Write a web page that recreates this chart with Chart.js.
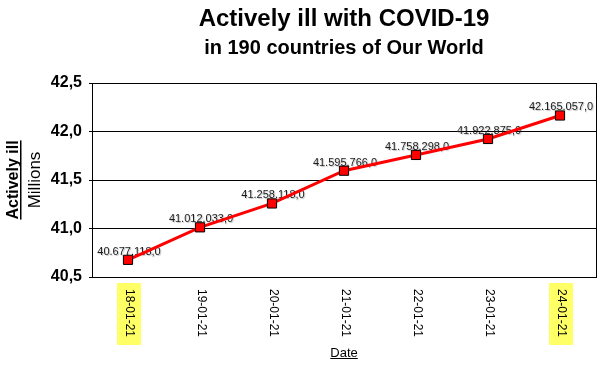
<!DOCTYPE html>
<html>
<head>
<meta charset="utf-8">
<script src="https://cdn.jsdelivr.net/npm/chart.js@4/dist/chart.umd.min.js"></script>
<style>
  html, body { margin: 0; padding: 0; background: #fff; }
  #wrap { width: 609px; height: 369px; }
</style>
</head>
<body>
<div id="wrap"><canvas id="myChart" width="609" height="369"></canvas></div>
<script>
// dates on the x axis
const dates = ["18-01-21", "19-01-21", "20-01-21", "21-01-21", "22-01-21", "23-01-21", "24-01-21"];
// actively ill people (absolute numbers)
const activeIll = [40677118, 41012033, 41258118, 41595766, 41758298, 41922875, 42165057];
// y axis ticks (millions)
const yTicks = [40.5, 41.0, 41.5, 42.0, 42.5];
// which dates get the yellow mark
const highlighted = ["18-01-21", "24-01-21"];

const FONT = "'Liberation Sans', Arial, sans-serif";

function formatValue(n) {
    return n.toString().replace(/\B(?=(\d{3})+(?!\d))/g, ".") + ",0";
}

const extrasPlugin = {
    id: "extras",
    beforeDatasetsDraw(chart) {
        const ctx = chart.ctx;
        const meta = chart.getDatasetMeta(0);
        ctx.save();
        ctx.font = "11px " + FONT;
        ctx.textAlign = "center";
        ctx.textBaseline = "alphabetic";
        ctx.shadowColor = "rgba(0,0,0,0.25)";
        ctx.shadowOffsetX = 1;
        ctx.shadowOffsetY = 1;
        ctx.shadowBlur = 1;
        ctx.fillStyle = "#1a1a1a";
        meta.data.forEach((pt, i) => {
            ctx.fillText(formatValue(activeIll[i]), pt.x + 1, pt.y - 5);
        });
        ctx.restore();
    },
    afterDraw(chart) {
        const ctx = chart.ctx;
        const area = chart.chartArea;
        const xScale = chart.scales.x;
        const cx = (area.left + area.right) / 2;
        ctx.save();

        // frame round the plot
        ctx.strokeStyle = "#000";
        ctx.lineWidth = 1;
        ctx.strokeRect(area.left + 0.5, area.top + 0.5, area.right - area.left, area.bottom - area.top);

        // titles
        ctx.fillStyle = "#000";
        ctx.textAlign = "center";
        ctx.textBaseline = "middle";
        ctx.font = "bold 24px " + FONT;
        ctx.fillText("Actively ill with COVID-19", cx, 19);
        ctx.font = "bold 20px " + FONT;
        ctx.fillText("in 190 countries of Our World", cx, 48);

        // x tick labels, rotated clockwise
        dates.forEach((d, i) => {
            const x = xScale.getPixelForValue(i);
            if (highlighted.includes(d)) {
                ctx.fillStyle = "#ffff66";
                ctx.fillRect(x - 11, area.bottom + 6, 24, 62);
            }
            ctx.save();
            ctx.translate(x + 1, area.bottom + 12);
            ctx.rotate(Math.PI / 2);
            ctx.fillStyle = "#000";
            ctx.font = "12px " + FONT;
            ctx.textAlign = "left";
            ctx.textBaseline = "middle";
            ctx.fillText(d, 0, 0);
            ctx.restore();
        });

        // x axis title, underlined
        ctx.font = "13px " + FONT;
        ctx.textAlign = "center";
        ctx.textBaseline = "alphabetic";
        ctx.fillStyle = "#000";
        const dw = ctx.measureText("Date").width;
        ctx.fillText("Date", cx, 357);
        ctx.fillRect(cx - dw / 2, 358, dw, 1);

        // y axis title
        const cy = (area.top + area.bottom) / 2;
        ctx.save();
        ctx.translate(18, cy);
        ctx.rotate(-Math.PI / 2);
        ctx.font = "bold 16px " + FONT;
        ctx.textAlign = "center";
        ctx.textBaseline = "alphabetic";
        const tw = ctx.measureText("Actively ill").width;
        ctx.fillText("Actively ill", 0, 0);
        ctx.fillRect(-tw / 2, 2, tw, 1.5);
        ctx.font = "17px " + FONT;
        ctx.fillText("Millions", 0, 22);
        ctx.restore();

        ctx.restore();
    }
};

new Chart("myChart", {
    type: "line",
    data: {
        labels: dates,
        datasets: [{
            data: activeIll.map((v) => v / 1e6),
            borderColor: "#ff0000",
            borderWidth: 3,
            pointStyle: "rect",
            pointRadius: 6.5,
            pointBackgroundColor: "#ff0000",
            pointBorderColor: "#000",
            pointBorderWidth: 1,
            tension: 0
        }]
    },
    options: {
        responsive: false,
        animation: false,
        layout: {
            padding: { top: 83, right: 13, bottom: 92, left: 0 }
        },
        plugins: {
            legend: { display: false },
            title: { display: false },
            tooltip: { enabled: false }
        },
        scales: {
            x: {
                offset: true,
                grid: { display: false },
                border: { display: true, color: "#000" },
                ticks: { display: false },
                afterFit(scale) { scale.height = 0; }
            },
            y: {
                min: yTicks[0],
                max: yTicks[yTicks.length - 1],
                afterBuildTicks(scale) {
                    scale.ticks = yTicks.map((v) => ({ value: v }));
                },
                afterFit(scale) { scale.width = 92; },
                grid: {
                    color: "#000",
                    lineWidth: 1,
                    drawTicks: true,
                    tickLength: 3
                },
                border: { display: true, color: "#000" },
                ticks: {
                    color: "#000",
                    padding: 7,
                    font: { family: FONT, size: 16, weight: "bold" },
                    callback: (v) => Number(v).toFixed(1).replace(".", ",")
                }
            }
        }
    },
    plugins: [extrasPlugin]
});
</script>
</body>
</html>
